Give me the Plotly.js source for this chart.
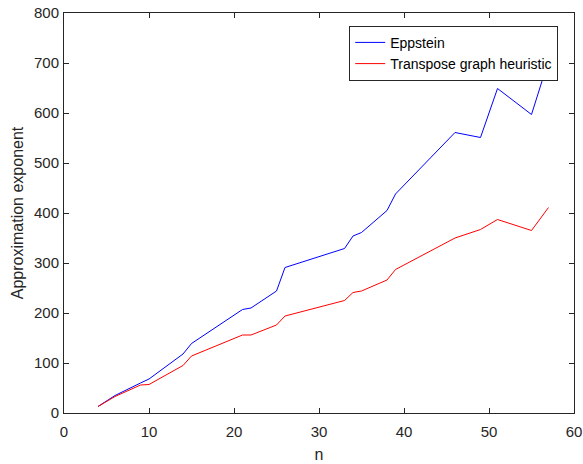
<!DOCTYPE html>
<html>
<head>
<meta charset="utf-8">
<script src="https://cdn.plot.ly/plotly-3.0.1.min.js"></script>
<style>html,body{margin:0;padding:0;background:#fff;}#chart{width:583px;height:464px;}</style>
</head>
<body>
<div id="chart"></div>
<script>
const n = [4, 6, 9, 10, 14, 15, 21, 22, 25, 26, 33, 34, 35, 38, 39, 46, 49, 51, 55, 57];
const eppstein = [13, 35, 60, 68, 118, 139, 207, 210, 244, 291, 329, 354, 361, 405, 438, 561, 551, 649, 597, 705];
const transpose = [13, 33, 56, 57, 95, 114, 156, 156, 176, 194, 225, 241, 244, 266, 287, 350, 367, 387, 365, 411];
const seriesNames = ["Eppstein", "Transpose graph heuristic"];
const xTicks = [0, 10, 20, 30, 40, 50, 60];
const yTicks = [0, 100, 200, 300, 400, 500, 600, 700, 800];

const family = "Liberation Sans, Arial, sans-serif";
const tickFont = {family: family, size: 15, color: "#262626"};
const titleFont = {family: family, size: 16, color: "#262626"};
const axisCommon = {
  showgrid: false, zeroline: false, showline: true, linecolor: "#262626", linewidth: 1,
  mirror: "ticks", ticks: "inside", ticklen: 5, tickwidth: 1, tickcolor: "#262626",
  tickfont: tickFont
};
Plotly.newPlot("chart", [
  {x: n, y: eppstein, name: seriesNames[0], mode: "lines", line: {color: "#0000ff", width: 1}},
  {x: n, y: transpose, name: seriesNames[1], mode: "lines", line: {color: "#ff0000", width: 1}}
], {
  width: 583, height: 464,
  margin: {l: 64, r: 9, t: 13, b: 51},
  paper_bgcolor: "#fff", plot_bgcolor: "#fff",
  font: tickFont,
  showlegend: true,
  legend: {x: 0.969, y: 0.968, xanchor: "right", yanchor: "top",
    bgcolor: "#fff", bordercolor: "#262626", borderwidth: 1,
    font: {family: family, size: 14, color: "#000"}, tracegroupgap: 0},
  xaxis: Object.assign({}, axisCommon, {range: [0, 60], tickvals: xTicks, ticklabelstandoff: 5,
    title: {text: "n", font: titleFont, standoff: 9}}),
  yaxis: Object.assign({}, axisCommon, {range: [0, 800], tickvals: yTicks, ticklabelstandoff: 1,
    title: {text: "Approximation exponent", font: titleFont, standoff: 6}})
}, {displayModeBar: false, staticPlot: true});
</script>
</body>
</html>
